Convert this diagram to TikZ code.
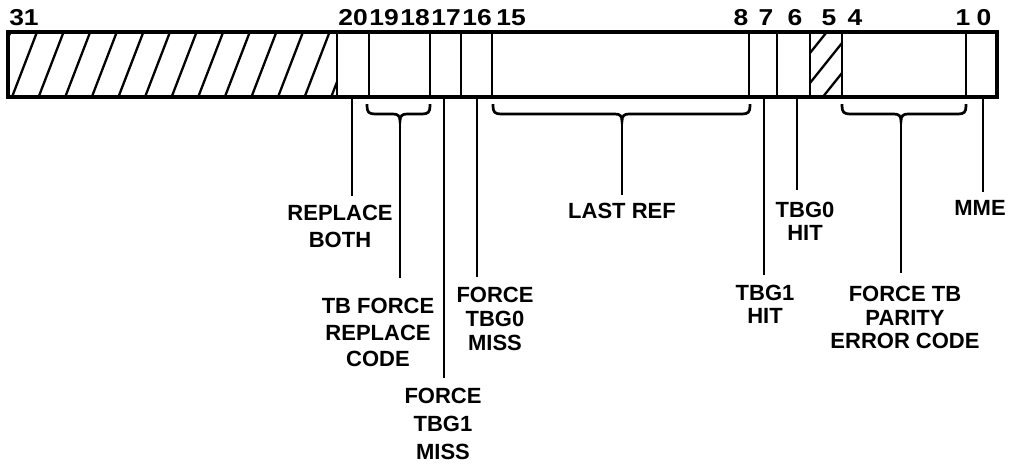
\documentclass[tikz,border=0pt]{standalone}
\usepackage{fontspec}
\setmainfont{Liberation Sans}
\newfontfamily\digitfont[FakeStretch=1.15]{Liberation Sans}
\begin{document}
\begin{tikzpicture}[x=1pt,y=-1pt,
  lbl/.style={font=\fontsize{22}{#1}\selectfont\bfseries, align=center, inner sep=0pt, anchor=north},
  lbl/.default=25,
  num/.style={font=\digitfont\fontsize{23}{25}\selectfont\bfseries, inner sep=0pt, anchor=base},
  leader/.style={line width=2.7pt},
  regframe/.style={line width=3.8pt},
  divider/.style={line width=2.8pt},
  hatchline/.style={line width=2.3pt}]
\useasboundingbox (0,0) rectangle (1016,467);

% hatching of bits 31-21
\begin{scope}
  \clip (8,32) rectangle (337,97);
  \foreach \k in {-2,...,13}
    \draw[hatchline] ({37+26.6*\k},32) -- ({37+26.6*\k-25},97);
\end{scope}
% hatching of bit 5
\begin{scope}
  \clip (810,32) rectangle (842,97);
  \foreach \k in {-1,0,1}
    \draw[hatchline] (842,{43+30*\k}) -- (810,{83+30*\k});
\end{scope}

% register frame and dividers
\draw[regframe] (8,32) rectangle (997,97);
\foreach \x in {337,369,430,461,492,749,777,810,842,966}
  \draw[divider] (\x,32) -- (\x,97);

% bit numbers
\node[num] (n31) at (24,25) {31};
\node[num] (n20) at (353,25) {20};
\node[num] (n19) at (384,25) {19};
\node[num] (n18) at (415,25) {18};
\node[num] (n17) at (446,25) {17};
\node[num] (n16) at (477,25) {16};
\node[num] (n15) at (511,25) {15};
\node[num] (n8) at (741,25) {8};
\node[num] (n7) at (766,25) {7};
\node[num] (n6) at (795,25) {6};
\node[num] (n5) at (829,25) {5};
\node[num] (n4) at (855,25) {4};
\node[num] (n1) at (963,25) {1};
\node[num] (n0) at (984,25) {0};

% labels
\node[lbl=27] (rb) at (340,205) {REPLACE\\BOTH};
\node[lbl=26.5] (tbf) at (378,298) {TB FORCE\\REPLACE\\CODE};
\node[lbl=28] (ft1) at (443,388) {FORCE\\TBG1\\MISS};
\node[lbl=24] (ft0) at (495,287) {FORCE\\TBG0\\MISS};
\node[lbl] (lr) at (622,203) {LAST REF};
\node[lbl=22.5] (t1h) at (765,285) {TBG1\\HIT};
\node[lbl=23] (t0h) at (805,202) {TBG0\\HIT};
\node[lbl=23.5] (fpe) at (905,286) {FORCE TB\\PARITY\\ERROR CODE};
\node[lbl] (mme) at (980,200) {MME};

% leader start points
\coordinate (b20) at (352,97);
\coordinate (b17) at (444,97);
\coordinate (b16) at (477,97);
\coordinate (b7) at (764,97);
\coordinate (b6) at (797,97);
\coordinate (b0) at (983,97);
\coordinate (c19) at (400,120);
\coordinate (c15) at (622,120);
\coordinate (c4) at (901,120);

% braces
\newcommand\regbrace[3]{%
  \draw[leader] (#1,104) -- (#1,106) .. controls (#1,112) and (#1+2,114) .. (#1+8,114)
    -- (#3-7,114) .. controls (#3-2,114) and (#3,116) .. (#3,121)
    .. controls (#3,116) and (#3+2,114) .. (#3+7,114)
    -- (#2-8,114) .. controls (#2-2,114) and (#2,112) .. (#2,106) -- (#2,104);}
\regbrace{367}{430}{400}
\regbrace{493}{750}{622}
\regbrace{842}{966}{901}

% leaders
\draw[leader, shorten >=9pt] (b20) -- (b20 |- rb.north);
\draw[leader, shorten >=20pt] (c19) -- (c19 |- tbf.north);
\draw[leader, shorten >=10pt] (b17) -- (b17 |- ft1.north);
\draw[leader, shorten >=10pt] (b16) -- (b16 |- ft0.north);
\draw[leader, shorten >=8pt] (c15) -- (c15 |- lr.north);
\draw[leader, shorten >=10pt] (b7) -- (b7 |- t1h.north);
\draw[leader, shorten >=12pt] (b6) -- (b6 |- t0h.north);
\draw[leader, shorten >=13pt] (c4) -- (c4 |- fpe.north);
\draw[leader, shorten >=8pt] (b0) -- (b0 |- mme.north);
\end{tikzpicture}
\end{document}
